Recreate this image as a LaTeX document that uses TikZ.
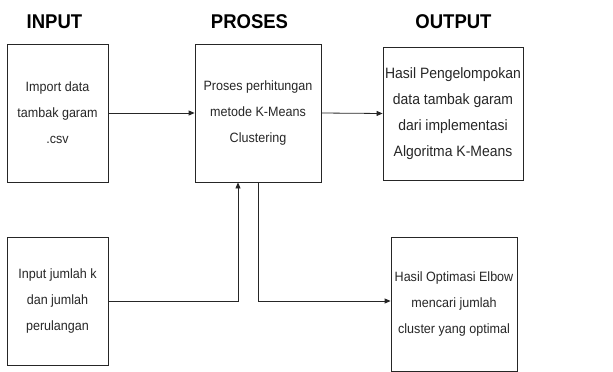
\documentclass[tikz,border=0pt]{standalone}
\usepackage{fontspec}
\setmainfont[FakeStretch=0.93]{Liberation Sans}
\usetikzlibrary{arrows.meta}
\begin{document}
\begin{tikzpicture}[x=1pt,y=-1pt,
  box/.style={draw=black!85,line width=0.8pt,inner sep=0pt,align=center,text=black!85,font=\fontsize{13.5}{26}\selectfont},
  head/.style={font=\fontsize{19.9}{22}\selectfont\bfseries,anchor=base,text=black},
  arr/.style={draw=black!85,line width=0.8pt,-{Triangle[length=6pt,width=5pt]}}
]
\useasboundingbox (0,0) rectangle (613,372);
\node[head] (h1) at (54.5,28) {INPUT};
\node[head] (h2) at (249.5,28) {PROSES};
\node[head] (h3) at (453.5,28) {OUTPUT};

\node[box,minimum width=101pt,minimum height=138pt] (in1) at (57.5,113) {Import data\\tambak garam\\.csv};
\node[box,minimum width=126pt,minimum height=138pt] (pro) at (258,113) {Proses perhitungan\\metode K-Means\\Clustering};
\node[box,minimum width=140pt,minimum height=133pt,font=\fontsize{15}{26}\selectfont] (out1) at (453,113.5) {Hasil Pengelompokan\\data tambak garam\\dari implementasi\\Algoritma K-Means};
\node[box,minimum width=101pt,minimum height=128pt] (in2) at (57.5,301) {Input jumlah k\\dan jumlah\\perulangan};
\node[box,minimum width=126pt,minimum height=134pt] (out2) at (454,304) {Hasil Optimasi Elbow\\mencari jumlah\\cluster yang optimal};

\draw[arr] (in1.east) -- (pro.west);
\draw[arr] (pro.east) -- (out1.west);
\draw[arr] (in2.east) -| ([xshift=-20pt]pro.south);
\draw[arr] (pro.south) |- (out2.west |- in2.east);
\end{tikzpicture}
\end{document}
